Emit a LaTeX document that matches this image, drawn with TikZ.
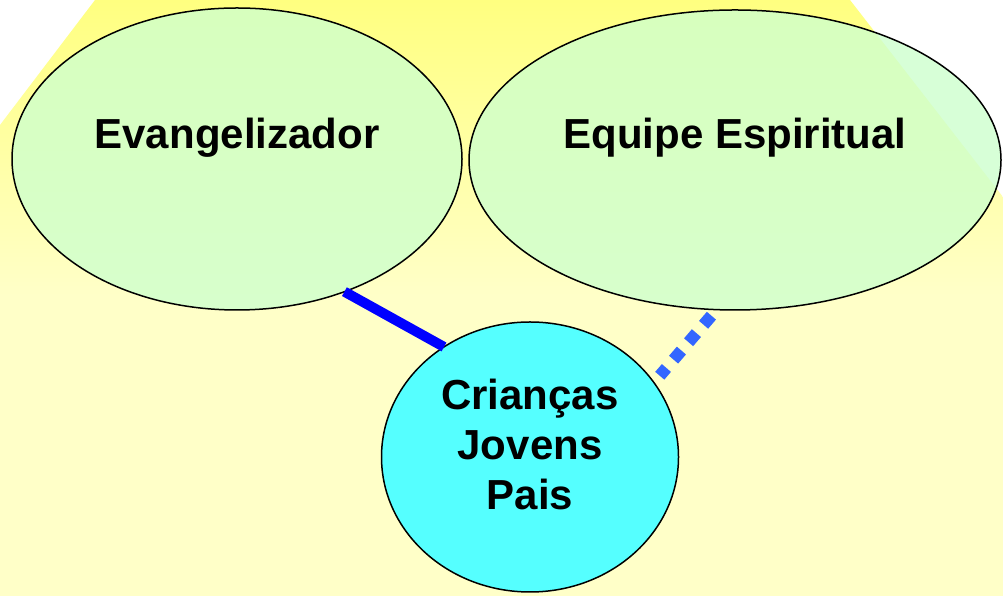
\documentclass[tikz,border=0pt]{standalone}
\usepackage{fontspec}
\setmainfont{Liberation Sans}
\usetikzlibrary{shapes.geometric}

\definecolor{bgtop}{RGB}{255,255,128}
\definecolor{bgbot}{RGB}{255,255,200}
\definecolor{leafgreen}{RGB}{205,255,205}
\definecolor{skycyan}{RGB}{85,255,255}
\definecolor{dotblue}{RGB}{51,102,255}

\tikzset{
    bubble/.style={ellipse, draw=black, line width=1.5pt, inner sep=0pt, outer sep=0pt},
    bigtext/.style={font=\fontsize{42}{50}\selectfont\bfseries, align=center}
}

\begin{document}
\begin{tikzpicture}[x=1pt,y=1pt]
                \useasboundingbox (0,0) rectangle (1003,596);
                % background
                \shade [top color=bgtop, bottom color=bgbot]
                    (0,471) -- (95,596) -- (850,596) -- (1003,399) -- (1003,300) -- (0,300) -- cycle;
                \fill [bgbot] (0,0) rectangle (1003,300.5);

                \node [bubble, fill=leafgreen, fill opacity=0.8, minimum width=450, minimum height=302] (evang) at (237,437) {};
                \node [bubble, fill=leafgreen, fill opacity=0.8, minimum width=532, minimum height=300] (equipe) at (735,436) {};
                \node [bigtext] at (237,458) {Evangelizador};
                \node [bigtext] at (735,458) {Equipe Espiritual};

                \node [bubble, fill=skycyan, minimum width=297, minimum height=270] (cjp) at (530,139) {};
                \node [bigtext] at (530,152) {Crianças\\Jovens\\Pais};

                \draw [blue, line width=10pt] (evang.-51.5) -- (cjp.128);
                \draw [dotblue, line width=12pt, dash pattern=on 12pt off 11pt, shorten <=8pt, shorten >=9pt] (equipe.-97) -- (cjp.31);
            \end{tikzpicture}
\end{document}
